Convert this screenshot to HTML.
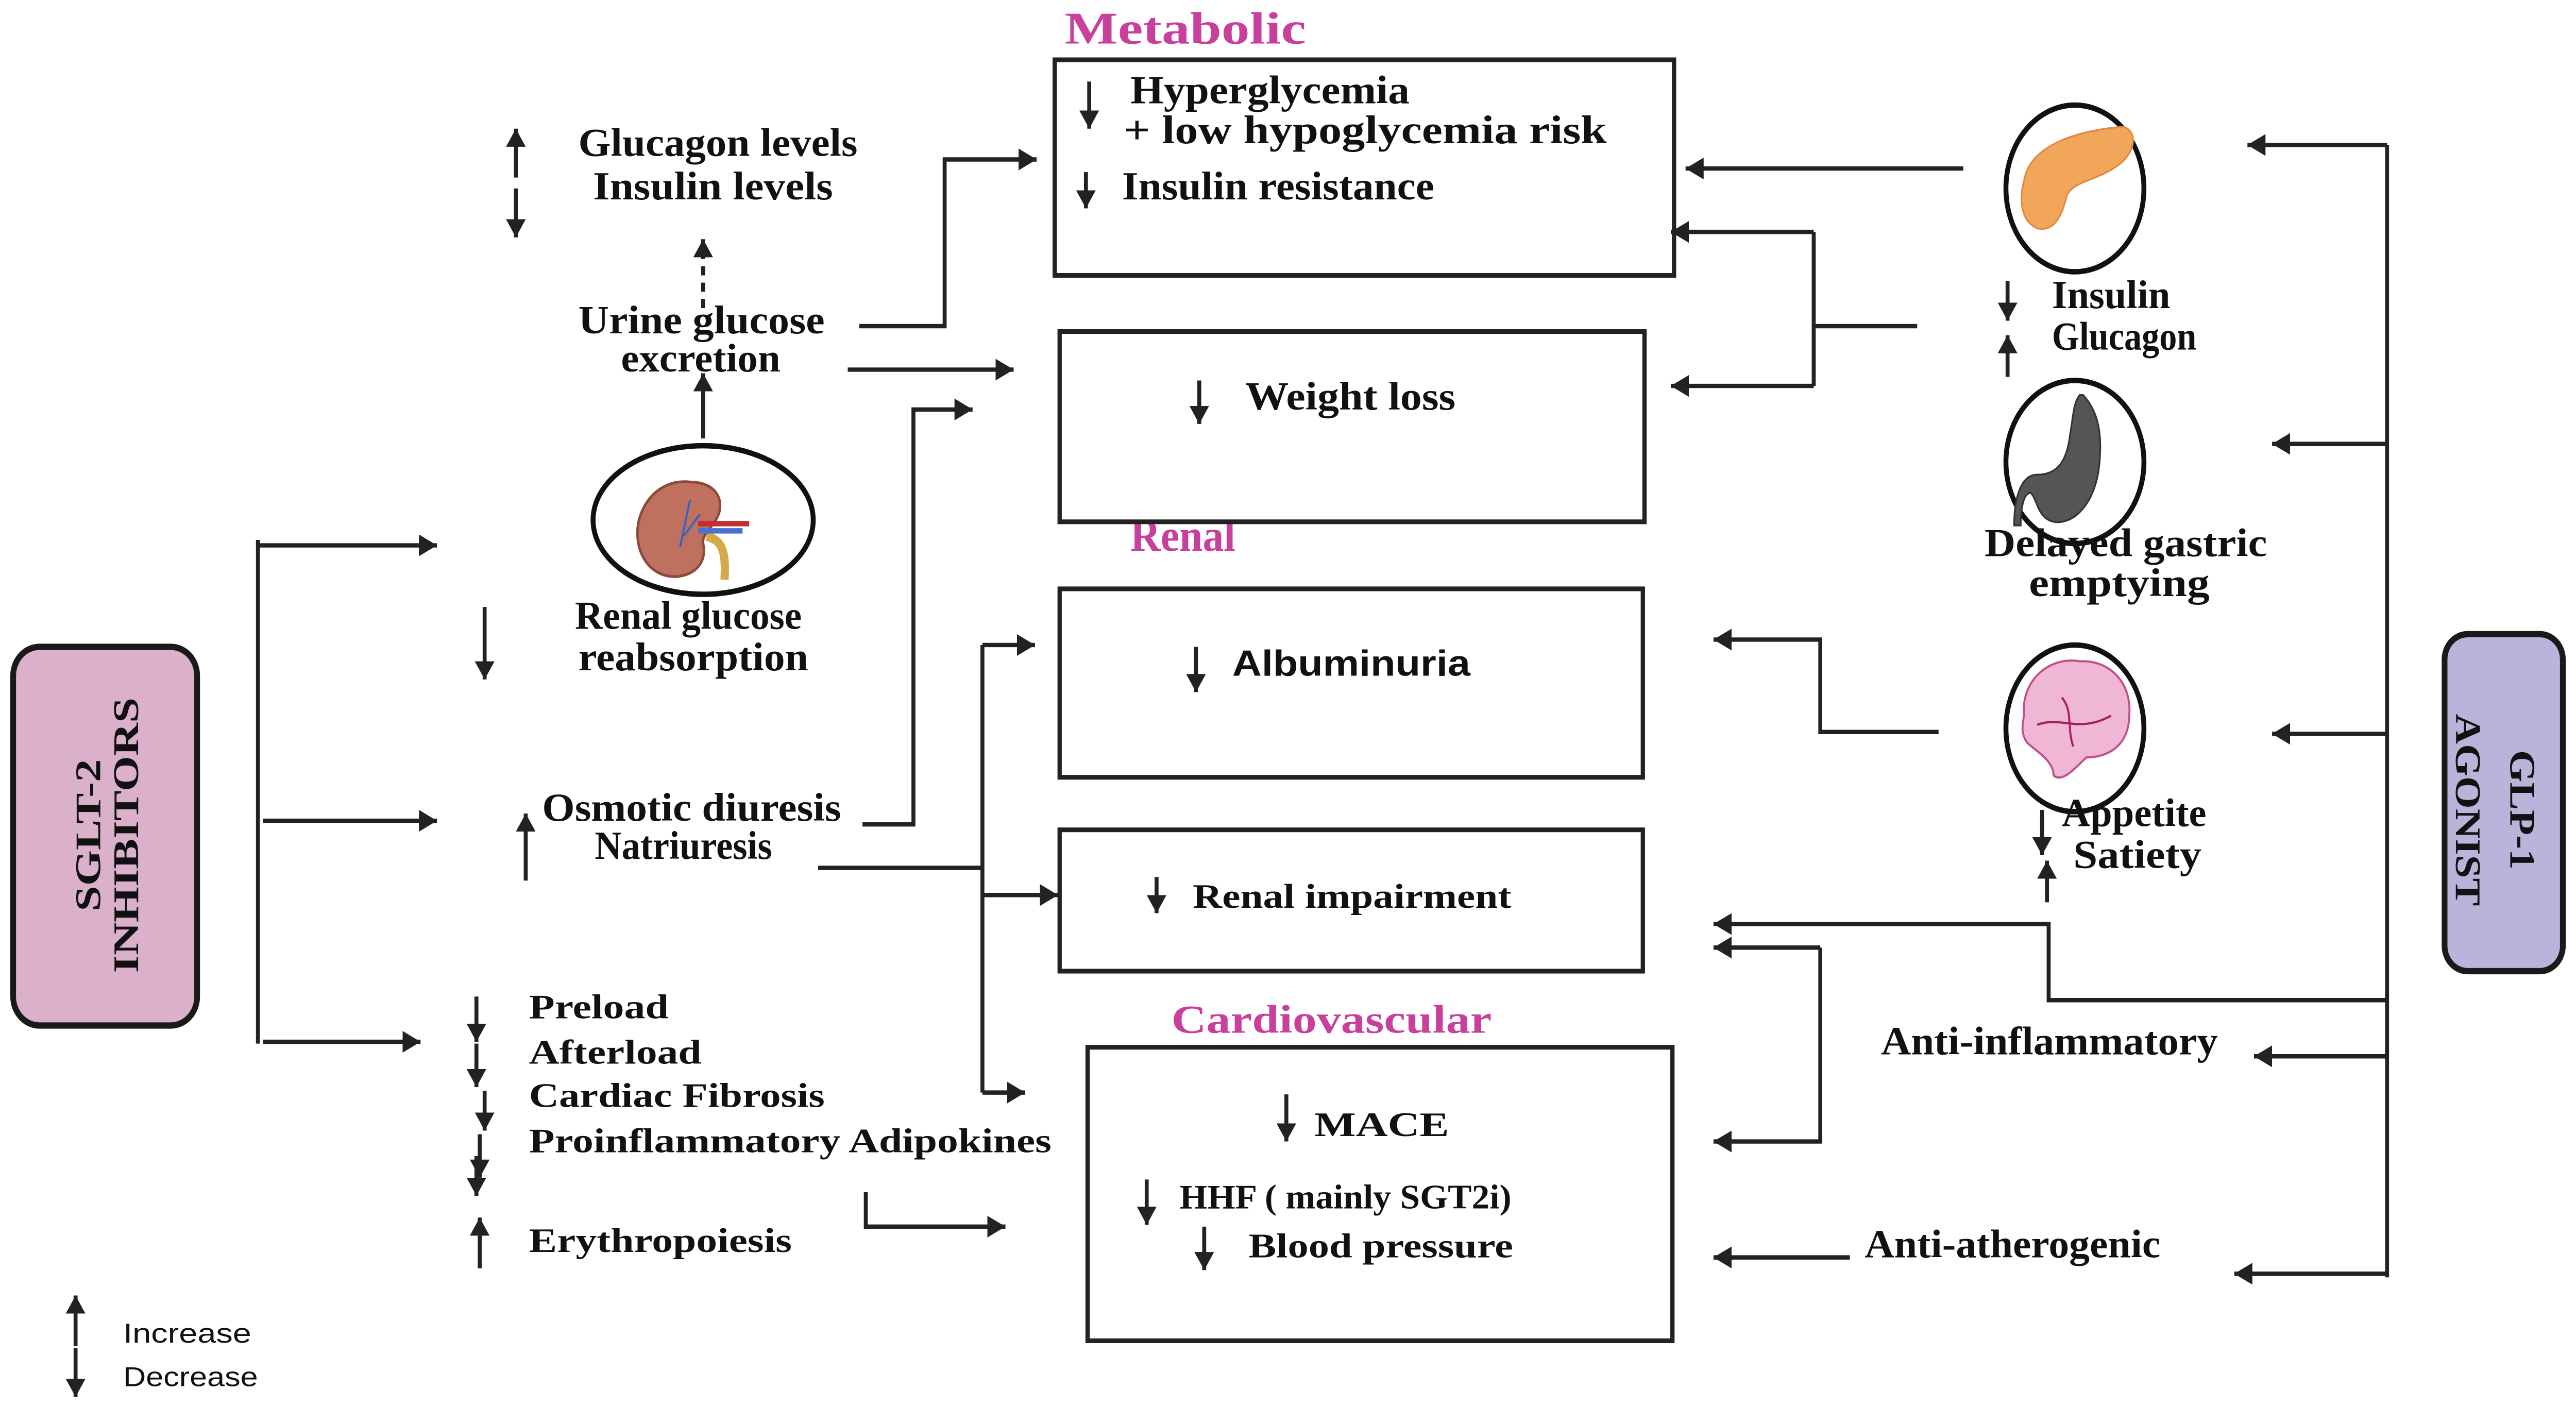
<!DOCTYPE html>
<html><head><meta charset="utf-8"><style>
html,body{margin:0;padding:0;background:#fff;overflow:hidden;width:100%;height:100%;}
svg{display:block;width:100vw;height:100vh;}
.c{font-family:"Liberation Serif",serif;font-weight:bold;font-size:22px;fill:#111;}
.w{font-family:"Liberation Serif",serif;font-weight:bold;font-size:19px;fill:#111;}
.s{font-family:"Liberation Sans",sans-serif;font-weight:bold;font-size:20px;fill:#111;}
.p{font-family:"Liberation Serif",serif;font-weight:bold;fill:#c8409c;}
.l{font-family:"Liberation Sans",sans-serif;font-size:15px;fill:#111;}
.ln{stroke:#222;stroke-width:2.4;fill:none;}
.bx{stroke:#222;stroke-width:2.6;fill:#fff;}
</style></head><body>
<svg viewBox="0 0 1568 776" preserveAspectRatio="none" xmlns="http://www.w3.org/2000/svg">
<defs>
<marker id="a" markerUnits="userSpaceOnUse" markerWidth="14" markerHeight="14" refX="11" refY="6" orient="auto">
<path d="M0,0 L11,6 L0,12 Z" fill="#222"/></marker>
<marker id="b" markerUnits="userSpaceOnUse" markerWidth="14" markerHeight="14" refX="10" refY="6" orient="auto">
<path d="M0,0 L10,6 L0,12 Z" fill="#222"/></marker>
</defs>
<rect width="1568" height="776" fill="#fff"/>

<!-- Titles -->
<text class="p" x="648" y="24" font-size="25" textLength="147" lengthAdjust="spacingAndGlyphs">Metabolic</text>
<text class="p" x="688" y="304" font-size="25" textLength="64" lengthAdjust="spacingAndGlyphs">Renal</text>
<text class="p" x="713" y="570" font-size="22" textLength="195" lengthAdjust="spacingAndGlyphs">Cardiovascular</text>

<!-- Boxes -->
<rect class="bx" x="642" y="33" width="377" height="119"/>
<rect class="bx" x="645" y="183" width="356" height="105"/>
<rect class="bx" x="645" y="325" width="355" height="104"/>
<rect class="bx" x="645" y="458" width="355" height="78"/>
<rect class="bx" x="662" y="578" width="356" height="162"/>

<!-- Metabolic box texts -->
<line class="ln" x1="663" y1="45" x2="663" y2="71" marker-end="url(#b)"/>
<text class="c" x="688" y="57" textLength="170" lengthAdjust="spacingAndGlyphs">Hyperglycemia</text>
<text class="c" x="684" y="79" textLength="294" lengthAdjust="spacingAndGlyphs">+ low hypoglycemia risk</text>
<line class="ln" x1="661" y1="95" x2="661" y2="115" marker-end="url(#b)"/>
<text class="c" x="683" y="110" textLength="190" lengthAdjust="spacingAndGlyphs">Insulin resistance</text>
<line class="ln" x1="730" y1="210" x2="730" y2="234" marker-end="url(#b)"/>
<text class="c" x="758" y="226" textLength="128" lengthAdjust="spacingAndGlyphs">Weight loss</text>
<line class="ln" x1="728" y1="357" x2="728" y2="382" marker-end="url(#b)"/>
<text class="s" x="750" y="373" textLength="145" lengthAdjust="spacingAndGlyphs">Albuminuria</text>
<line class="ln" x1="704" y1="484" x2="704" y2="504" marker-end="url(#b)"/>
<text class="w" x="726" y="501" textLength="194" lengthAdjust="spacingAndGlyphs">Renal impairment</text>
<line class="ln" x1="783" y1="604" x2="783" y2="630" marker-end="url(#b)"/>
<text class="w" x="800" y="627" textLength="82" lengthAdjust="spacingAndGlyphs">MACE</text>
<line class="ln" x1="698" y1="651" x2="698" y2="676" marker-end="url(#b)"/>
<text class="w" x="718" y="667" textLength="202" lengthAdjust="spacingAndGlyphs">HHF ( mainly SGT2i)</text>
<line class="ln" x1="733" y1="677" x2="733" y2="701" marker-end="url(#b)"/>
<text class="w" x="760" y="694" textLength="161" lengthAdjust="spacingAndGlyphs">Blood pressure</text>

<!-- SGLT-2 box -->
<rect x="8" y="357" width="112" height="209" rx="16" fill="#dab0cb" stroke="#1a1a1a" stroke-width="3.5"/>
<text class="c" font-size="32" transform="translate(61,461) rotate(-90)" text-anchor="middle" textLength="84" lengthAdjust="spacingAndGlyphs">SGLT-2</text>
<text class="c" font-size="32" transform="translate(84,461) rotate(-90)" text-anchor="middle" textLength="152" lengthAdjust="spacingAndGlyphs">INHIBITORS</text>

<!-- GLP-1 box -->
<rect x="1488" y="350" width="72" height="186" rx="14" fill="#b9b4d9" stroke="#1a1a1a" stroke-width="3.5"/>
<text class="c" font-size="30" transform="translate(1528,447) rotate(90)" text-anchor="middle" textLength="66" lengthAdjust="spacingAndGlyphs">GLP-1</text>
<text class="c" font-size="30" transform="translate(1495,447) rotate(90)" text-anchor="middle" textLength="106" lengthAdjust="spacingAndGlyphs">AGONIST</text>

<!-- Left bracket -->
<line class="ln" x1="157" y1="298" x2="157" y2="576"/>
<line class="ln" x1="157" y1="301" x2="266" y2="301" marker-end="url(#a)"/>
<line class="ln" x1="160" y1="453" x2="266" y2="453" marker-end="url(#a)"/>
<line class="ln" x1="160" y1="575" x2="256" y2="575" marker-end="url(#a)"/>

<!-- Glucagon/Insulin -->
<line class="ln" x1="314" y1="98" x2="314" y2="71" marker-end="url(#b)"/>
<line class="ln" x1="314" y1="104" x2="314" y2="131" marker-end="url(#b)"/>
<text class="c" x="352" y="86" textLength="170" lengthAdjust="spacingAndGlyphs">Glucagon levels</text>
<text class="c" x="361" y="110" textLength="146" lengthAdjust="spacingAndGlyphs">Insulin levels</text>
<line class="ln" x1="428" y1="170" x2="428" y2="132" stroke-dasharray="5,4" marker-end="url(#b)"/>
<text class="c" x="352" y="184" textLength="150" lengthAdjust="spacingAndGlyphs">Urine glucose</text>
<text class="c" x="378" y="205" textLength="97" lengthAdjust="spacingAndGlyphs">excretion</text>
<line class="ln" x1="428" y1="242" x2="428" y2="206" marker-end="url(#b)"/>

<!-- Kidney circle -->
<ellipse cx="428" cy="287" rx="67" ry="41" fill="#fff" stroke="#111" stroke-width="3"/>
<path d="M420,266 C400,264 388,280 388,294 C388,310 400,320 414,318 C426,316 430,308 428,300 C427,294 436,290 438,282 C440,272 432,266 420,266 Z" fill="#c0705e" stroke="#8a4a3c" stroke-width="1.5"/>
<path d="M426,284 L416,296 M420,276 L414,302" stroke="#3a60c0" stroke-width="1.2"/>
<path d="M430,296 C440,298 442,305 441,320" stroke="#d4a94a" stroke-width="5" fill="none"/>
<path d="M425,289 L456,289" stroke="#c03030" stroke-width="3"/>
<path d="M425,293 L452,293" stroke="#4a70d0" stroke-width="3"/>
<text class="c" x="350" y="347" textLength="138" lengthAdjust="spacingAndGlyphs">Renal glucose</text>
<text class="c" x="352" y="370" textLength="140" lengthAdjust="spacingAndGlyphs">reabsorption</text>
<line class="ln" x1="295" y1="335" x2="295" y2="375" marker-end="url(#b)"/>

<!-- Osmotic -->
<line class="ln" x1="320" y1="486" x2="320" y2="449" marker-end="url(#b)"/>
<text class="c" x="330" y="453" textLength="182" lengthAdjust="spacingAndGlyphs">Osmotic diuresis</text>
<text class="c" x="362" y="474" textLength="108" lengthAdjust="spacingAndGlyphs">Natriuresis</text>

<!-- Cardio list -->
<line class="ln" x1="290" y1="550" x2="290" y2="575" marker-end="url(#b)"/>
<text class="w" x="322" y="562" textLength="85" lengthAdjust="spacingAndGlyphs">Preload</text>
<line class="ln" x1="290" y1="576" x2="290" y2="600" marker-end="url(#b)"/>
<text class="w" x="322" y="587" textLength="105" lengthAdjust="spacingAndGlyphs">Afterload</text>
<line class="ln" x1="295" y1="602" x2="295" y2="624" marker-end="url(#b)"/>
<text class="w" x="322" y="611" textLength="180" lengthAdjust="spacingAndGlyphs">Cardiac Fibrosis</text>
<line class="ln" x1="292" y1="626" x2="292" y2="650" marker-end="url(#b)"/>
<text class="w" x="322" y="636" textLength="318" lengthAdjust="spacingAndGlyphs">Proinflammatory Adipokines</text>
<line class="ln" x1="290" y1="638" x2="290" y2="660" marker-end="url(#b)"/>
<line class="ln" x1="292" y1="700" x2="292" y2="672" marker-end="url(#b)"/>
<text class="w" x="322" y="691" textLength="160" lengthAdjust="spacingAndGlyphs">Erythropoiesis</text>

<!-- Legend -->
<line class="ln" x1="46" y1="743" x2="46" y2="715" marker-end="url(#b)"/>
<text class="l" x="75" y="741" textLength="78" lengthAdjust="spacingAndGlyphs">Increase</text>
<line class="ln" x1="46" y1="744" x2="46" y2="771" marker-end="url(#b)"/>
<text class="l" x="75" y="765" textLength="82" lengthAdjust="spacingAndGlyphs">Decrease</text>

<!-- Left connectors -->
<polyline class="ln" points="523,180 575,180 575,88 631,88" marker-end="url(#a)"/>
<line class="ln" x1="516" y1="204" x2="617" y2="204" marker-end="url(#a)"/>
<polyline class="ln" points="525,455 556,455 556,226 592,226" marker-end="url(#a)"/>
<line class="ln" x1="498" y1="479" x2="598" y2="479"/>
<line class="ln" x1="598" y1="356" x2="598" y2="603"/>
<line class="ln" x1="598" y1="356" x2="630" y2="356" marker-end="url(#a)"/>
<line class="ln" x1="598" y1="494" x2="644" y2="494" marker-end="url(#a)"/>
<line class="ln" x1="598" y1="603" x2="624" y2="603" marker-end="url(#a)"/>
<polyline class="ln" points="527,658 527,677 612,677" marker-end="url(#a)"/>

<!-- Right organs -->
<ellipse cx="1263" cy="104" rx="42" ry="46" fill="#fff" stroke="#111" stroke-width="3"/>
<path d="M1232,100 C1235,80 1265,72 1292,70 C1302,72 1300,85 1288,92 C1275,100 1262,100 1258,108 C1255,120 1250,128 1240,126 C1230,122 1229,110 1232,100 Z" fill="#f2a65a" stroke="#e08a40" stroke-width="1"/>
<ellipse cx="1263" cy="255" rx="42" ry="45" fill="#fff" stroke="#111" stroke-width="3"/>
<path d="M1268,218 C1275,225 1280,235 1278,255 C1276,278 1262,290 1250,288 C1240,286 1240,275 1236,272 C1232,272 1230,280 1230,290 L1226,290 C1226,275 1230,262 1240,262 C1252,262 1258,255 1260,240 C1262,230 1262,222 1266,218 Z" fill="#555" stroke="#333" stroke-width="1"/>
<ellipse cx="1263" cy="402" rx="42" ry="46" fill="#fff" stroke="#111" stroke-width="3"/>
<path d="M1232,395 C1230,375 1248,362 1266,365 C1285,364 1298,378 1296,395 C1296,410 1285,418 1270,418 C1262,425 1255,432 1250,428 C1250,420 1240,415 1234,410 C1230,405 1231,400 1232,395 Z" fill="#f0b6d6" stroke="#c0508a" stroke-width="1.2"/>
<path d="M1240,400 C1255,395 1265,405 1285,395 M1255,385 C1262,392 1258,402 1262,412" stroke="#a0205a" stroke-width="1.2" fill="none"/>

<line class="ln" x1="1222" y1="155" x2="1222" y2="177" marker-end="url(#b)"/>
<line class="ln" x1="1222" y1="208" x2="1222" y2="185" marker-end="url(#b)"/>
<text class="c" x="1249" y="170" textLength="72" lengthAdjust="spacingAndGlyphs">Insulin</text>
<text class="c" x="1249" y="193" textLength="88" lengthAdjust="spacingAndGlyphs">Glucagon</text>
<text class="c" x="1208" y="307" textLength="172" lengthAdjust="spacingAndGlyphs">Delayed gastric</text>
<text class="c" x="1235" y="329" textLength="110" lengthAdjust="spacingAndGlyphs">emptying</text>
<line class="ln" x1="1243" y1="447" x2="1243" y2="472" marker-end="url(#b)"/>
<line class="ln" x1="1246" y1="498" x2="1246" y2="475" marker-end="url(#b)"/>
<text class="c" x="1255" y="456" textLength="88" lengthAdjust="spacingAndGlyphs">Appetite</text>
<text class="c" x="1262" y="479" textLength="78" lengthAdjust="spacingAndGlyphs">Satiety</text>
<text class="c" x="1145" y="582" textLength="205" lengthAdjust="spacingAndGlyphs">Anti-inflammatory</text>
<text class="c" x="1135" y="694" textLength="180" lengthAdjust="spacingAndGlyphs">Anti-atherogenic</text>

<!-- Right connectors -->
<line class="ln" x1="1195" y1="93" x2="1026" y2="93" marker-end="url(#a)"/>
<line class="ln" x1="1167" y1="180" x2="1104" y2="180"/>
<line class="ln" x1="1104" y1="128" x2="1104" y2="213"/>
<line class="ln" x1="1104" y1="128" x2="1017" y2="128" marker-end="url(#a)"/>
<line class="ln" x1="1104" y1="213" x2="1017" y2="213" marker-end="url(#a)"/>
<polyline class="ln" points="1180,404 1108,404 1108,353 1043,353" marker-end="url(#a)"/>

<line class="ln" x1="1453" y1="80" x2="1453" y2="705"/>
<line class="ln" x1="1453" y1="80" x2="1368" y2="80" marker-end="url(#a)"/>
<line class="ln" x1="1453" y1="245" x2="1383" y2="245" marker-end="url(#a)"/>
<line class="ln" x1="1453" y1="405" x2="1383" y2="405" marker-end="url(#a)"/>
<line class="ln" x1="1453" y1="583" x2="1372" y2="583" marker-end="url(#a)"/>
<line class="ln" x1="1453" y1="703" x2="1360" y2="703" marker-end="url(#a)"/>
<polyline class="ln" points="1453,552 1247,552 1247,510 1043,510" marker-end="url(#a)"/>
<polyline class="ln" points="1108,523 1108,630 1043,630" marker-end="url(#a)"/>
<line class="ln" x1="1108" y1="523" x2="1043" y2="523" marker-end="url(#a)"/>
<line class="ln" x1="1126" y1="694" x2="1043" y2="694" marker-end="url(#a)"/>
</svg>
</body></html>
